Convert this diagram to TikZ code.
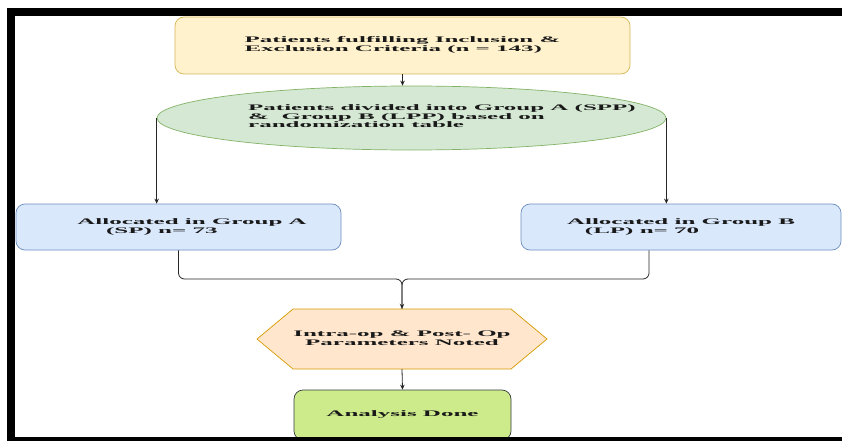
\documentclass[tikz,border=0pt]{standalone}
\usepackage{fontspec}
\setmainfont{Liberation Serif}
\usepackage{graphicx}
\usetikzlibrary{arrows.meta,shapes.geometric}

\definecolor{critfill}{HTML}{FFF2CC}
\definecolor{critline}{HTML}{D6B656}
\definecolor{divfill}{HTML}{D5E8D4}
\definecolor{divline}{HTML}{82B366}
\definecolor{grpfill}{HTML}{DAE8FC}
\definecolor{grpline}{HTML}{6C8EBF}
\definecolor{parfill}{HTML}{FFE6CC}
\definecolor{parline}{HTML}{D79B00}
\definecolor{endfill}{HTML}{CDEB8B}
\definecolor{endline}{HTML}{36393D}

\newcommand{\widetext}[2][@{}c@{}]{\scalebox{2.94}[1]{\fontsize{8.5}{8.6}\selectfont\bfseries\begin{tabular}{#1}#2\end{tabular}}}

\begin{document}
\begin{tikzpicture}[x=1pt,y=-1pt,
    box/.style={draw, rounded corners=9pt, line width=0.7pt, inner sep=0pt, text=black!90},
    flow/.style={draw=black!85, line width=0.8pt, -{Stealth[length=5pt,width=4.5pt]}},
    mergeline/.style={draw=black!85, line width=0.8pt, rounded corners=6pt}]
            \useasboundingbox (0,0) rectangle (842,441);
            %\draw[lightgray] (0,0) grid[step=50] (842,441);
            \node[box, fill=critfill, draw=critline, minimum width=455pt, minimum height=57pt] (criteria) at (402.5,45.5) {\widetext[@{}l@{}]{Patients fulfilling Inclusion \&\\Exclusion Criteria (n = 143)}};
            \node[ellipse, fill=divfill, draw=divline, line width=0.7pt, minimum width=509pt, minimum height=64pt, inner sep=0pt] (divide) at (411.5,118) {};
            \node[anchor=west, inner sep=0pt, text=black!90] (dividetext) at (248,117.4) {\def\arraystretch{0.9}\widetext[@{}l@{}]{Patients divided into Group A (SPP)\\\& \ Group B (LPP) based on\\randomization table}};
            \node[box, fill=grpfill, draw=grpline, minimum width=325pt, minimum height=46pt] (groupA) at (178.5,227) {\widetext[@{}l@{}]{\hspace*{9.2pt}Allocated in Group A\\\hspace*{19pt}(SP) n= 73}};
            \node[box, fill=grpfill, draw=grpline, minimum width=320pt, minimum height=46pt] (groupB) at (681,227) {\widetext[@{}l@{}]{Allocated in Group B\\\hspace*{6.1pt}(LP) n= 70}};
            \filldraw[fill=parfill, draw=parline, line width=0.7pt] (293,309) -- (511,309) -- (547,339) -- (511,369) -- (293,369) -- (257,339) -- cycle;
            \node[minimum width=218pt, minimum height=60pt, inner sep=0pt, text=black!90] (params) at (402,339) {\widetext{Intra-op \& Post- Op\\Parameters Noted}};
            \node[box, fill=endfill, draw=endline, minimum width=217pt, minimum height=50pt] (analysis) at (402.5,415) {\widetext{Analysis Done}};
            \draw[flow] (criteria.south) -- (criteria.south |- divide.north);
            \draw[flow] (divide.west) -- (divide.west |- groupA.north);
            \draw[flow] (divide.east) -- (divide.east |- groupB.north);
            \coordinate (merge) at (402,279);
            \draw[mergeline] ([xshift=-32pt]groupB.south) |- (merge) -- (params.north);
            \draw[flow, rounded corners=6pt] (groupA.south) |- (merge) -- (params.north);
            \draw[flow] (params.south) -- (analysis.north);
            \fill[black] (7,8) rectangle (842,16);
            \fill[black] (7,8) rectangle (15,441);
            \fill[black] (7,437) rectangle (842,441);
        \end{tikzpicture}
\end{document}
